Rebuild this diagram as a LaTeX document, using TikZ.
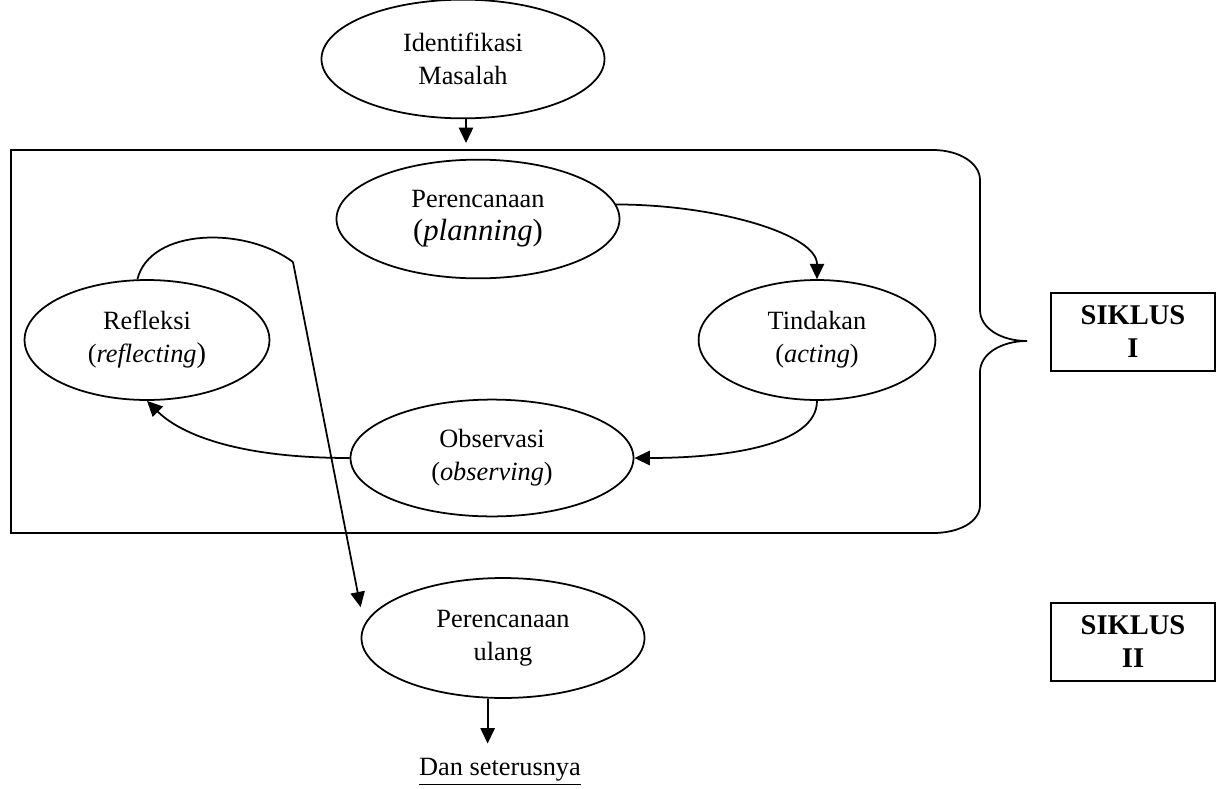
\documentclass[tikz,border=0pt]{standalone}
\usepackage{fontspec}
\setmainfont{Liberation Serif}
\usetikzlibrary{shapes,arrows,arrows.meta}
\usetikzlibrary{positioning}
\tikzstyle{oval} = [
        ellipse, draw, inner sep=0pt,
        align=center,
        minimum width=4.53cm, minimum height=1.9cm
    ]
\tikzstyle{siklus} = [
        rectangle, draw, align=center,
        font=\fontsize{13}{15}\selectfont\bfseries,
        minimum width=2.62cm, minimum height=1.25cm
    ]
\tikzstyle{line} = [draw, -{Triangle[length=7pt,width=6.5pt]}]

\begin{document}
\begin{tikzpicture}[x=0.016cm, y=-0.016cm, line width=0.8pt,
    font=\fontsize{12}{15}\selectfont]
    \useasboundingbox (0,0) rectangle (1217,789);

    % frame of cycle I with its brace
    \draw (11,150) -- (933,150) .. controls (959,150) and (980,163) .. (980,180)
        -- (980,310) .. controls (980,328) and (1001,341) .. (1027,341)
        .. controls (1001,341) and (980,354) .. (980,372)
        -- (980,505) .. controls (980,522) and (959,533) .. (933,533)
        -- (11,533) -- cycle;

    \node [oval] (ident) at (463,59) {Identifikasi\\Masalah};
    \node [oval] (perenc) at (478,219)
        {Perencanaan\\{\fontsize{14}{16}\selectfont(\textit{planning})}};
    \node [oval, minimum width=3.79cm, minimum height=1.92cm] (tindak) at (817,340)
        {Tindakan\\(\textit{acting})};
    \node [oval, minimum width=3.92cm, minimum height=1.92cm] (refl) at (147,340)
        {Refleksi\\(\textit{reflecting}{\fontsize{13}{14}\selectfont)}};
    \node [oval, minimum height=1.87cm] (obs) at (492,458)
        {Observasi\\(\textit{observing})};
    \node [oval, minimum height=1.92cm] (ulang) at (503,638) {Perencanaan\\ulang};
    \node (dan) at (500,772) {\underline{Dan seterusnya}};
    \node [siklus] (s1) at (1133,332) {SIKLUS\\I};
    \node [siklus] (s2) at (1133,642) {SIKLUS\\II};
    \coordinate (intop) at (466,143);
    \coordinate (bend) at (293,262);

    \path [line] (ident.south -| intop) -- (intop);
    \path [line] (perenc.6) .. controls +(100,0) and +(0,-45) .. (tindak.north);
    \path [line] (tindak.south) .. controls +(0,45) and +(90,0) .. (obs.east);
    \path [line] (obs.west) .. controls +(-120,0) and +(30,30) .. (refl.south);
    \draw (refl.99) .. controls (150,228) and (245,226) .. (bend);
    \path [line] (bend) -- ([yshift=14pt]ulang.west);
    \path [line, shorten >=3pt] ([xshift=-7pt]ulang.south)
        -- ([xshift=-7pt]ulang.south |- dan.north);
\end{tikzpicture}
\end{document}
